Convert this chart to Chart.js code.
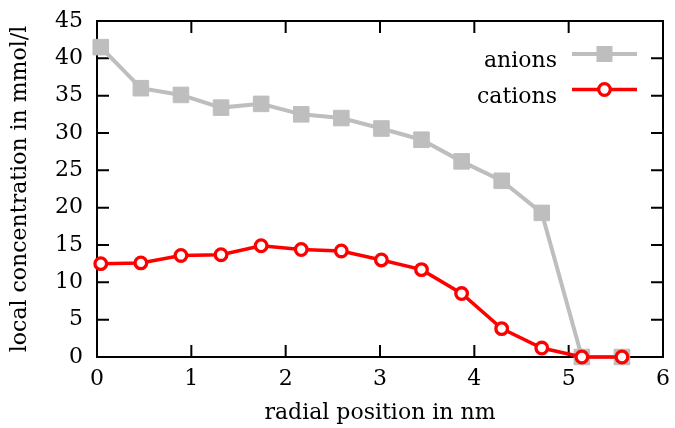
<!DOCTYPE html>
<html>
<head>
<meta charset="utf-8">
<script src="https://cdn.jsdelivr.net/npm/chart.js@4.4.1/dist/chart.umd.min.js"></script>
<style>
  html, body { margin: 0; padding: 0; background: #fff; }
  #c { display: block; }
</style>
</head>
<body>
<canvas id="c" width="675" height="428"></canvas>
<script>
// radial bin positions (nm) and concentrations (mmol/l)
const positions = [0.04, 0.465, 0.89, 1.315, 1.74, 2.165, 2.59, 3.015, 3.44, 3.865, 4.29, 4.715, 5.14, 5.565];
const anions = [41.5, 36.0, 35.1, 33.4, 33.9, 32.5, 32.0, 30.6, 29.1, 26.2, 23.6, 19.3, 0, 0];
const cations = [12.5, 12.6, 13.6, 13.7, 14.9, 14.4, 14.2, 13.0, 11.7, 8.5, 3.8, 1.2, 0, 0];
const xTicks = [0, 1, 2, 3, 4, 5, 6];
const yTicks = [0, 5, 10, 15, 20, 25, 30, 35, 40, 45];

const GRAY = '#bebebe';
const RED = '#ff0000';
const FONT = "'DejaVu Serif', serif";

const toPoints = (vals) => vals.map((v, i) => ({ x: positions[i], y: v }));

// box round the plot with inward ticks on all four sides
const framePlugin = {
  id: 'frame',
  beforeDatasetsDraw(chart) {
    const { ctx, chartArea: a, scales: { x, y } } = chart;
    const len = 12;
    ctx.save();
    ctx.strokeStyle = '#000';
    ctx.lineWidth = 2;
    ctx.strokeRect(a.left, a.top, a.right - a.left, a.bottom - a.top);
    ctx.beginPath();
    xTicks.forEach((v) => {
      const px = x.getPixelForValue(v);
      ctx.moveTo(px, a.bottom); ctx.lineTo(px, a.bottom - len);
      ctx.moveTo(px, a.top); ctx.lineTo(px, a.top + len);
    });
    yTicks.forEach((v) => {
      const py = y.getPixelForValue(v);
      ctx.moveTo(a.left, py); ctx.lineTo(a.left + len, py);
      ctx.moveTo(a.right, py); ctx.lineTo(a.right - len, py);
    });
    ctx.stroke();
    ctx.restore();
  },
};

// gnuplot style key: text on the left, line sample on the right
const keyPlugin = {
  id: 'key',
  afterDraw(chart) {
    const { ctx, chartArea: a } = chart;
    const x0 = a.right - 91;
    const x1 = a.right - 26;
    const xm = (x0 + x1) / 2;
    ctx.save();
    ctx.font = '22px ' + FONT;
    ctx.textAlign = 'right';
    ctx.textBaseline = 'alphabetic';
    chart.data.datasets.forEach((ds, i) => {
      const yy = a.top + 33 + i * 35.5;
      ctx.fillStyle = '#000';
      ctx.fillText(ds.label, a.right - 106, yy + 13);
      ctx.strokeStyle = ds.borderColor;
      ctx.lineWidth = ds.borderWidth;
      ctx.beginPath();
      ctx.moveTo(x0, yy); ctx.lineTo(x1, yy);
      ctx.stroke();
      ctx.fillStyle = ds.pointBackgroundColor;
      if (ds.pointStyle === 'rect') {
        ctx.fillRect(xm - 8, yy - 8, 16, 16);
      } else {
        ctx.strokeStyle = ds.pointBorderColor;
        ctx.lineWidth = ds.pointBorderWidth;
        ctx.beginPath();
        ctx.arc(xm, yy, ds.pointRadius, 0, Math.PI * 2);
        ctx.fill();
        ctx.stroke();
      }
    });
    ctx.restore();
  },
};

new Chart(document.getElementById('c').getContext('2d'), {
  type: 'line',
  data: {
    datasets: [
      {
        label: 'anions',
        data: toPoints(anions),
        borderColor: GRAY,
        borderWidth: 4,
        pointStyle: 'rect',
        pointRadius: 11,
        pointBorderWidth: 1,
        pointBackgroundColor: GRAY,
        pointBorderColor: GRAY,
        tension: 0,
        clip: false,
        order: 2,
      },
      {
        label: 'cations',
        data: toPoints(cations),
        borderColor: RED,
        borderWidth: 3.5,
        pointStyle: 'circle',
        pointRadius: 5.8,
        pointBorderWidth: 3.3,
        pointBackgroundColor: '#fff',
        pointBorderColor: RED,
        tension: 0,
        clip: false,
        order: 1,
      },
    ],
  },
  options: {
    responsive: false,
    animation: false,
    devicePixelRatio: 1,
    layout: {
      padding: { left: 0, right: 12, top: 21, bottom: 0 },
    },
    plugins: {
      legend: { display: false },
      tooltip: { enabled: false },
    },
    scales: {
      x: {
        type: 'linear',
        min: 0,
        max: 6,
        grid: { display: false, drawTicks: false },
        border: { display: false },
        ticks: {
          stepSize: 1,
          padding: 9,
          color: '#000',
          font: { family: FONT, size: 22 },
        },
        title: {
          display: true,
          text: 'radial position in nm',
          color: '#000',
          font: { family: FONT, size: 22 },
          padding: { top: 0, bottom: 2 },
        },
        afterFit(scale) {
          scale.height = 71;
          scale.paddingLeft = 0;
          scale.paddingRight = 0;
        },
      },
      y: {
        min: 0,
        max: 45,
        grid: { display: false, drawTicks: false },
        border: { display: false },
        ticks: {
          stepSize: 5,
          padding: 14,
          color: '#000',
          font: { family: FONT, size: 22 },
        },
        title: {
          display: true,
          text: 'local concentration in mmol/l',
          color: '#000',
          font: { family: FONT, size: 22 },
          padding: { top: 7, bottom: 0 },
        },
        afterFit(scale) {
          scale.width = 97;
          scale.paddingTop = 0;
          scale.paddingBottom = 0;
        },
      },
    },
  },
  plugins: [framePlugin, keyPlugin],
});
</script>
</body>
</html>
